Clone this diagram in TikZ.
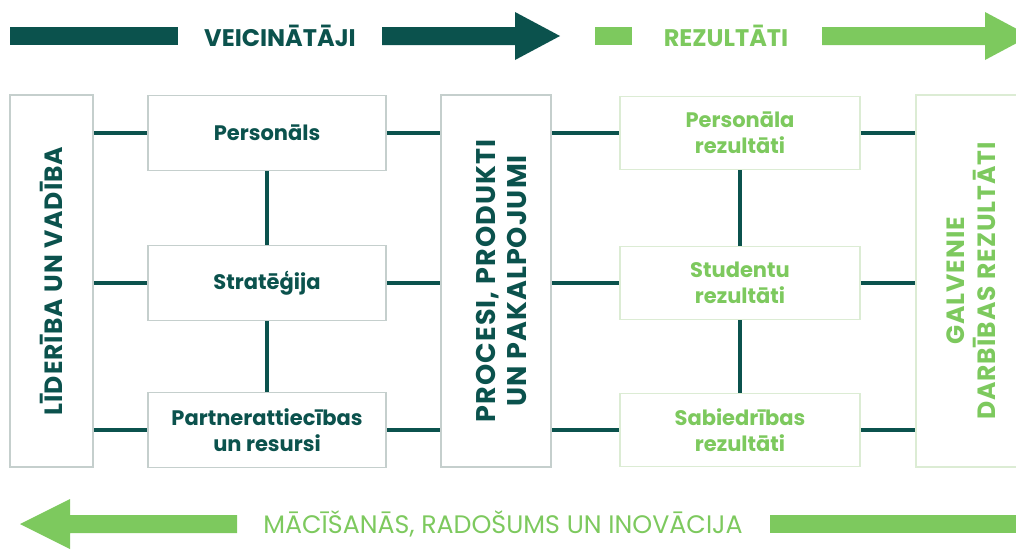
\documentclass[tikz,border=0pt]{standalone}
\usepackage{fontspec}
\setmainfont{Poppins}
\definecolor{darkteal}{HTML}{0B524D}
\definecolor{leaf}{HTML}{7DC95E}
\definecolor{boxgray}{HTML}{C5CFCD}
\definecolor{boxleaf}{HTML}{DCECD4}
\tikzset{
    enabler/.style={draw=boxgray, line width=1.5pt, fill=white, minimum width=238, minimum height=75,
        align=center, text=darkteal, font=\fontsize{21}{26}\selectfont\bfseries},
    outcome/.style={enabler, draw=boxleaf, minimum width=240, minimum height=73, text=leaf},
    pillar/.style={draw=boxgray, line width=1.5pt, fill=white, minimum width=110, minimum height=372},
    pillartext/.style={rotate=90, align=center, text=darkteal,
        font=\fontsize{25}{31}\selectfont\bfseries\addfontfeatures{LetterSpace=4}},
    headtext/.style={font=\fontsize{24}{28}\selectfont\bfseries},
    link/.style={darkteal, line width=4pt}
}
\begin{document}
\begin{tikzpicture}[x=1pt,y=-1pt]
        \useasboundingbox (0,0) rectangle (1016,549);
        % top arrows
        \fill[darkteal] (10,27) rectangle (178,45);
        \fill[darkteal] (382,27) -- (515,27) -- (515,12) -- (560,36) -- (515,60) -- (515,45) -- (382,45) -- cycle;
        \node[headtext, text=darkteal] (veic) at (280,36) {VEICINĀTĀJI};
        \fill[leaf] (595,27) rectangle (632,45);
        \fill[leaf] (822,27) -- (985,27) -- (985,12) -- (1030,36) -- (985,60) -- (985,45) -- (822,45) -- cycle;
        \node[headtext, text=leaf] (rez) at (726,36) {REZULTĀTI};
        % bottom arrow
        \fill[leaf] (237,515) -- (70,515) -- (70,499) -- (20,524) -- (70,549) -- (70,533) -- (237,533) -- cycle;
        \fill[leaf] (770,515) rectangle (1016,533);
        \node[text=leaf, font=\fontsize{25.3}{29}\selectfont] (learn) at (503,524) {MĀCĪŠANĀS, RADOŠUMS UN INOVĀCIJA};
        % columns
        \node[pillar, minimum width=83] (lead) at (51.5,281) {};
        \node[pillartext] at (lead) {LĪDERĪBA UN VADĪBA};
        \node[enabler] (pers) at (267,133) {Personāls};
        \node[enabler] (strat) at (267,283) {Stratēģija};
        \node[enabler] (partn) at (267,430) {Partnerattiecības\\un resursi};
        \node[pillar] (proc) at (496,281) {};
        \node[pillartext, font=\fontsize{27}{31}\selectfont\bfseries\addfontfeatures{LetterSpace=4}]
            at ([xshift=5]proc.center) {PROCESI, PRODUKTI\\UN PAKALPOJUMI};
        \node[outcome] (rpers) at (740,133) {Personāla\\rezultāti};
        \node[outcome] (rstud) at (740,283) {Studentu\\rezultāti};
        \node[outcome] (rsoc) at (740,430) {Sabiedrības\\rezultāti};
        \node[pillar, draw=boxleaf] (main) at (971,281) {};
        \node[pillartext, text=leaf] at (main) {GALVENIE\\DARBĪBAS REZULTĀTI};
        % links
        \foreach \l/\r in {pers/rpers, strat/rstud, partn/rsoc} {
            \draw[link] (lead.east |- \l) -- (\l.west);
            \draw[link] (\l.east) -- (proc.west |- \l);
            \draw[link] (proc.east |- \r) -- (\r.west);
            \draw[link] (\r.east) -- (main.west |- \r);
        }
        \draw[link] (pers.south) -- (strat.north);
        \draw[link] (strat.south) -- (partn.north);
        \draw[link] (rpers.south) -- (rstud.north);
        \draw[link] (rstud.south) -- (rsoc.north);
    \end{tikzpicture}
\end{document}
